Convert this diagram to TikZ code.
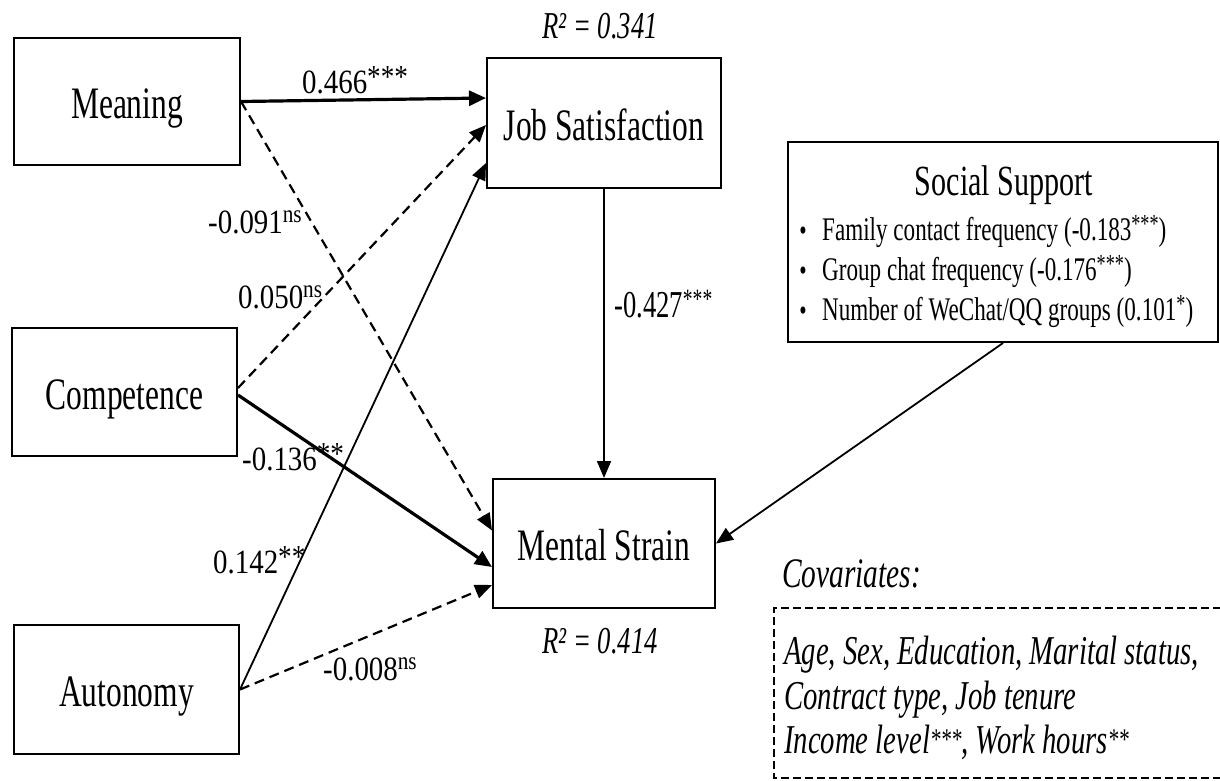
\documentclass[tikz,border=0pt]{standalone}
\usepackage{fontspec}
\setmainfont[FakeStretch=0.7]{Liberation Serif}
\newfontfamily\lblf[FakeStretch=0.85]{Liberation Serif}
\usetikzlibrary{arrows.meta}
\newcommand\fsz[1]{\fontsize{#1}{#1}\selectfont}
\newcommand\stL[1]{\raisebox{6pt}{\fsz{32}#1}}
\newcommand\nsL{\raisebox{11pt}{\fsz{25}ns}}
\newcommand\stR[1]{\raisebox{8pt}{\fsz{26}#1}}
\newcommand\stQ[1]{\raisebox{9pt}{\fsz{28}#1}}
\newcommand\stC[1]{\raisebox{4pt}{\fsz{30}#1}}
\tikzset{
  box/.style={draw, line width=2pt, inner sep=0pt, font=\fsz{45}, text height=34pt, text depth=0pt, align=center},
  lbl/.style={inner sep=0pt, anchor=base west, font=\lblf\fsz{34}},
  rtxt/.style={inner sep=0pt, anchor=base west, font=\fsz{33}},
  cov/.style={inner sep=0pt, anchor=base west, font=\fsz{41}\itshape},
  rsq/.style={inner sep=0pt, anchor=base, font=\fsz{38}\itshape},
  thickarr/.style={line width=3.2pt, -{Triangle[length=17pt,width=15pt]}},
  thinarr/.style={line width=1.8pt, -{Triangle[length=17pt,width=14pt]}},
  dasharr/.style={line width=2.2pt, dash pattern=on 10pt off 6pt, -{Triangle[length=17pt,width=14pt]}},
  covbox/.style={line width=1.5pt, dash pattern=on 8pt off 4pt}
}
\begin{document}
\begin{tikzpicture}[x=1pt,y=-1pt]
\useasboundingbox[fill=white] (0,0) rectangle (1220,780);
% boxes
\node[box, minimum width=226pt, minimum height=127pt] (mean) at (127,101.5) {Meaning};
\node[box, minimum width=225pt, minimum height=128pt] (comp) at (124.5,392) {Competence};
\node[box, minimum width=225pt, minimum height=129pt] (auto) at (126.5,689.5) {Autonomy};
\node[box, minimum width=234pt, minimum height=130pt] (js) at (604,123) {Job Satisfaction};
\node[box, minimum width=222pt, minimum height=129pt] (ms) at (604,543.5) {Mental Strain};
\node[draw, line width=2pt, inner sep=0pt, minimum width=430pt, minimum height=200pt] (ss) at (1003,242) {};
% social support content
\node[inner sep=0pt, anchor=base, font=\fsz{43}] (sstitle) at (1004,195) {Social Support};
\node[inner sep=0pt, anchor=base, font=\fsz{30}] (b1) at (803,240) {•};
\node[inner sep=0pt, anchor=base, font=\fsz{30}] (b2) at (803,280) {•};
\node[inner sep=0pt, anchor=base, font=\fsz{30}] (b3) at (803,320) {•};
\node[rtxt] (ss1) at (822,240) {Family contact frequency (-0.183\stR{***})};
\node[rtxt] (ss2) at (822,280) {Group chat frequency (-0.176\stR{***})};
\node[rtxt] (ss3) at (822,320) {Number of WeChat/QQ groups (0.101\stR{*})};
% R squared
\node[rsq] (r1) at (600,38) {R² = 0.341};
\node[rsq] (r2) at (600,653) {R² = 0.414};
% covariates
\node[inner sep=0pt, anchor=base west, font=\fsz{42}\itshape] (covt) at (782,587) {Covariates:};
\coordinate (c1) at (1221,608);
\coordinate (c2) at (774,778);
\coordinate (c3) at (1221,778);
\draw[covbox] (c1) -| (c2) -- (c3);
\node[cov] (cv1) at (784,664) {Age, Sex, Education, Marital status,};
\node[cov] (cv2) at (784,709) {Contract type, Job tenure};
\node[cov] (cv3) at (784,753) {Income level\stC{***}, Work hours\stC{**}};
% arrows
\draw[thickarr] (mean.east) -- ([yshift=25pt]js.west);
\draw[dasharr] (mean.east) -- ([yshift=13pt]ms.west);
\draw[dasharr] ([yshift=4pt]comp.east) -- ([yshift=-2pt]js.west);
\draw[thinarr] (auto.east) -- ([yshift=-40pt]js.west);
\draw[thickarr] ([yshift=-3pt]comp.east) -- ([yshift=-23.5pt]ms.west);
\draw[dasharr] (auto.east) -- ([yshift=-41.5pt]ms.west);
\draw[thinarr] (js.south) -- (ms.north);
\draw[thinarr] (ss.south) -- (ms.east);
% edge labels
\node[lbl] (l1) at (302,93) {0.466\stL{***}};
\node[lbl] (l2) at (208,233) {-0.091\nsL};
\node[lbl] (l3) at (238,308) {0.050\nsL};
\node[lbl] (l4) at (242,470) {-0.136\stL{**}};
\node[lbl] (l5) at (213,573) {0.142\stL{**}};
\node[lbl] (l6) at (323,680) {-0.008\nsL};
\node[inner sep=0pt, anchor=base west, font=\fsz{38}] (l7) at (614,317) {-0.427\stQ{***}};
\end{tikzpicture}
\end{document}
